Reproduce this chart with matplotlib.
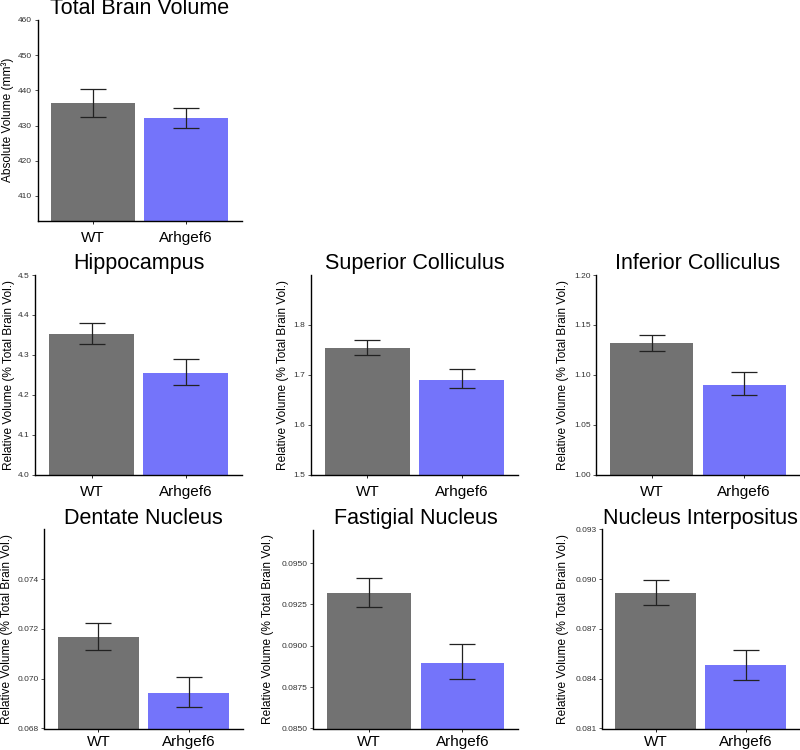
import matplotlib
matplotlib.use("Agg")
import matplotlib.pyplot as plt
import numpy as np

plt.rcParams['font.family'] = ['Liberation Sans', 'DejaVu Sans']

# ---- data ----
groups = ["WT", "Arhgef6"]
titles = ["Total Brain Volume", "Hippocampus", "Superior Colliculus", "Inferior Colliculus",
          "Dentate Nucleus", "Fastigial Nucleus", "Nucleus Interpositus"]
ylabels = ["Absolute Volume (mm³)"] + ["Relative Volume (% Total Brain Vol.)"] * 6

total_mean = [436.3, 432.2]
total_lo = [432.5, 429.3]
total_hi = [440.3, 435.0]

hippo_mean = [4.352, 4.255]
hippo_lo = [4.327, 4.225]
hippo_hi = [4.379, 4.289]

supcol_mean = [1.754, 1.690]
supcol_lo = [1.739, 1.673]
supcol_hi = [1.770, 1.711]

infcol_mean = [1.1317, 1.0894]
infcol_lo = [1.1240, 1.0797]
infcol_hi = [1.1404, 1.1024]

dentate_mean = [0.07169, 0.06944]
dentate_lo = [0.07116, 0.06885]
dentate_hi = [0.07224, 0.07008]

fastig_mean = [0.0932, 0.08898]
fastig_lo = [0.09236, 0.0880]
fastig_hi = [0.09408, 0.09008]

interp_mean = [0.08918, 0.08482]
interp_lo = [0.08844, 0.08392]
interp_hi = [0.08992, 0.08572]

total_ticks = [410, 420, 430, 440, 450, 460]
hippo_ticks = [4.0, 4.1, 4.2, 4.3, 4.4, 4.5]
supcol_ticks = [1.5, 1.6, 1.7, 1.8]
infcol_ticks = [1.00, 1.05, 1.10, 1.15, 1.20]
dentate_ticks = [0.068, 0.070, 0.072, 0.074]
fastig_ticks = [0.0850, 0.0875, 0.0900, 0.0925, 0.0950]
interp_ticks = [0.081, 0.084, 0.087, 0.090, 0.093]

panels = [
    (total_mean, total_lo, total_hi, total_ticks, (403.0, 460.0), "{:.0f}"),
    (hippo_mean, hippo_lo, hippo_hi, hippo_ticks, (4.0, 4.5), "{:.1f}"),
    (supcol_mean, supcol_lo, supcol_hi, supcol_ticks, (1.5, 1.9), "{:.1f}"),
    (infcol_mean, infcol_lo, infcol_hi, infcol_ticks, (1.0, 1.2), "{:.2f}"),
    (dentate_mean, dentate_lo, dentate_hi, dentate_ticks, (0.068, 0.076), "{:.3f}"),
    (fastig_mean, fastig_lo, fastig_hi, fastig_ticks, (0.085, 0.097), "{:.4f}"),
    (interp_mean, interp_lo, interp_hi, interp_ticks, (0.081, 0.093), "{:.3f}"),
]

# ---- layout (pixels: left, right, top, bottom) ----
W, H = 800, 750
rects_px = [
    (37.5, 242.0, 20.0, 220.5),
    (35.3, 242.2, 275.0, 474.5),
    (310.9, 518.4, 275.0, 474.7),
    (596.4, 799.5, 275.0, 474.7),
    (44.1, 242.9, 529.3, 728.5),
    (313.4, 518.4, 530.0, 728.5),
    (602.0, 799.5, 529.3, 728.5),
]
ylabel_x = [8.0, 9.3, 283.3, 563.3, 7.5, 268.3, 563.3]
xlabel_pad = [5, 5, 5, 5, 2.3, 2.3, 2.3]

bar_colors = ["#727272", "#7474fa"]

fig = plt.figure(figsize=(8, 7.5), dpi=100)
fig.patch.set_facecolor("white")

for i, (mean, lo, hi, ticks, ylim, fmt) in enumerate(panels):
    l, r, t, b = rects_px[i]
    ax = fig.add_axes([l / W, 1 - b / H, (r - l) / W, (b - t) / H])
    ax.set_facecolor("white")
    x = np.arange(1, len(groups) + 1)
    mean = np.array(mean)
    yerr = [mean - np.array(lo), np.array(hi) - mean]
    ax.bar(x, mean, width=0.9, color=bar_colors, zorder=2)
    ax.errorbar(x, mean, yerr=yerr, fmt='none', ecolor='#222222', elinewidth=0.9,
                capsize=9.5, capthick=0.9, zorder=3)
    ax.set_xlim(0.4, 2.6)
    ax.set_ylim(*ylim)
    ax.set_yticks(ticks)
    ax.set_yticklabels([fmt.format(v) for v in ticks])
    ax.set_xticks(x)
    ax.set_xticklabels(groups)
    for s in ["top", "right"]:
        ax.spines[s].set_visible(False)
    for s in ["left", "bottom"]:
        ax.spines[s].set_linewidth(1.0)
        ax.spines[s].set_color("black")
    ax.tick_params(axis='y', labelsize=6, length=2.5, width=0.6, pad=1.5, colors='#333333')
    ax.tick_params(axis='x', labelsize=11, length=2.5, width=0.6, pad=xlabel_pad[i], colors='black')
    ax.set_title(titles[i], fontsize=15.5, pad=4)
    fig.text(ylabel_x[i] / W, 1 - ((t + b) / 2) / H, ylabels[i], rotation=90,
             ha='center', va='center', fontsize=8.6)

fig.savefig("out.png", dpi=100, facecolor="white")
